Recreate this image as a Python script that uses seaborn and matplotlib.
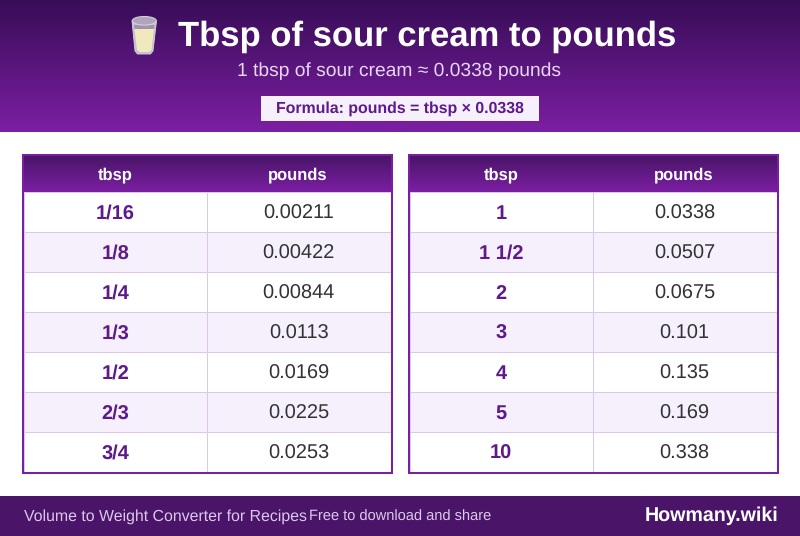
import numpy as np
import pandas as pd
import matplotlib
matplotlib.use('Agg')
import matplotlib.pyplot as plt
from matplotlib.colors import LinearSegmentedColormap, ListedColormap
from matplotlib.patches import Rectangle, Polygon, Ellipse
import seaborn as sns

title = 'Tbsp of sour cream to pounds'
subtitle = '1 tbsp of sour cream ≈ 0.0338 pounds'
formula = 'Formula: pounds = tbsp × 0.0338'
footer_left = 'Volume to Weight Converter for Recipes'
footer_mid = 'Free to download and share'
brand = 'Howmany.wiki'
col_names = ['tbsp', 'pounds']

tbsp_left = ['1/16', '1/8', '1/4', '1/3', '1/2', '2/3', '3/4']
pounds_left = ['0.00211', '0.00422', '0.00844', '0.0113', '0.0169', '0.0225', '0.0253']
tbsp_right = ['1', '1 1/2', '2', '3', '4', '5', '10']
pounds_right = ['0.0338', '0.0507', '0.0675', '0.101', '0.135', '0.169', '0.338']

W, H = 800, 536
PURPLE = '#7b1fa2'
TOP = '#380d57'
FOOT = '#4a1569'
LINE = '#dcc8ec'
STRIPE = '#f5f0fb'

sns.set_theme(style='white')
plt.rcParams['font.family'] = ['Liberation Sans', 'DejaVu Sans']
plt.rcParams['text.hinting'] = 'no_hinting'
plt.rcParams['text.hinting_factor'] = 8

fig = plt.figure(figsize=(W / 100, H / 100), dpi=100, facecolor='white')

# whole figure in pixel coords, for the banner and footer
bg = fig.add_axes([0, 0, 1, 1])
bg.axis('off')

banner = LinearSegmentedColormap.from_list('banner', [TOP, PURPLE])
head = LinearSegmentedColormap.from_list('head', ['#4a1569', PURPLE])
ramp = np.linspace(0, 1, 64).reshape(-1, 1)
bg.imshow(ramp, cmap=banner, extent=(0, W, 132, 0), aspect='auto', zorder=1)
bg.add_patch(Rectangle((0, 496), W, 40, color=FOOT, lw=0, zorder=1))

bg.text(178, 46, title, color='white', fontsize=24.95, fontweight='bold', zorder=3)
bg.text(399, 76, subtitle, color='#e6d6f2', fontsize=13.9, ha='center', zorder=3)
bg.add_patch(Rectangle((261, 96), 278, 25, color=STRIPE, lw=0, zorder=2))
bg.text(400, 113, formula, color='#5e1a8a', fontsize=11.45, fontweight='bold', ha='center', zorder=3)
bg.text(24, 521, footer_left, color='#dcc8ec', fontsize=11.42, zorder=3)
bg.text(309, 521, footer_mid, color='#dcc8ec', fontsize=10.5, zorder=3)
bg.text(778.5, 521, brand, color='white', fontsize=14.1, fontweight='bold', ha='right', zorder=3)

# glass icon
bg.add_patch(Polygon([(132, 21), (156.5, 21), (153, 51), (150.5, 54), (137.5, 54), (135, 51)], closed=True,
                     fc='#c6bfcd', ec='#d8d3de', lw=0.6, zorder=3))
bg.add_patch(Polygon([(134, 25), (154.5, 25), (154, 29), (134.5, 29)], closed=True,
                     fc='#a093ad', ec='none', zorder=4))
bg.add_patch(Polygon([(134.5, 29), (154, 29), (151.5, 50), (149, 52), (139.5, 52), (137, 50)], closed=True,
                     fc='#f0e9bd', ec='none', zorder=4))
bg.add_patch(Ellipse((144.3, 20.8), 24, 8.6, fc='#b0a5bb', ec='#d5d0db', lw=0.8, zorder=4))


def draw_table(left, tbsp, pounds):
    # gradient header
    bg.imshow(ramp, cmap=head, extent=(left + 2, left + 369, 192, 156), aspect='auto', zorder=2)
    for name, cx in zip(col_names, (left + 93.5, left + 275.5)):
        bg.text(cx, 179, name, color='white', fontsize=11.9, fontweight='bold', ha='center', zorder=3)

    # table body is a heatmap of the row banding
    ax = fig.add_axes([(left + 1.5) / W, 1 - 472 / H, 367 / W, 280 / H])
    labels = pd.DataFrame({'tbsp': tbsp, 'pounds': pounds})
    bands = np.array([[i % 2, i % 2] for i in range(len(tbsp))])
    sns.heatmap(bands, ax=ax, cmap=ListedColormap(['white', STRIPE]), vmin=0, vmax=1,
                annot=labels.values, fmt='', cbar=False, linewidths=0.72, linecolor=LINE,
                xticklabels=False, yticklabels=False, annot_kws={'fontsize': 14.4, 'color': '#333333'})
    for t in ax.texts:
        # line the labels up on a baseline, centring on the bbox makes them jump
        x, y = t.get_position()
        t.set_position((x, y + 0.165))
        t.set_verticalalignment('baseline')
    for t in ax.texts[::2]:
        t.set_color('#5e1a8a')
        t.set_fontweight('bold')

    # outer frame goes on top of the heatmap
    frame = fig.add_axes([(left + 1) / W, 1 - 473 / H, 369 / W, 318 / H], facecolor='none')
    frame.set_xticks([])
    frame.set_yticks([])
    for s in frame.spines.values():
        s.set_color(PURPLE)
        s.set_linewidth(1.44)
        s.set_visible(True)


draw_table(22, tbsp_left, pounds_left)
draw_table(408, tbsp_right, pounds_right)

bg.set_xlim(0, W)
bg.set_ylim(H, 0)

fig.savefig('out.png', dpi=100, facecolor='white')
